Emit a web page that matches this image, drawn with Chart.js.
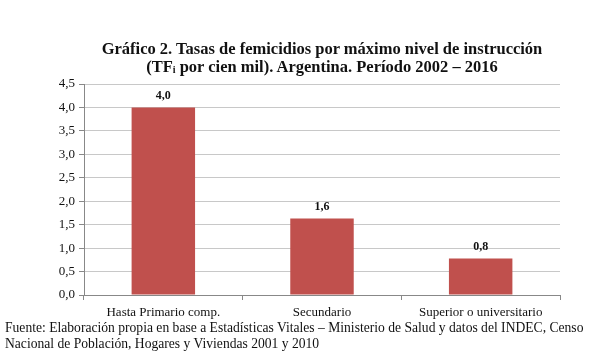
<!DOCTYPE html>
<html><head><meta charset="utf-8">
<script src="https://cdn.jsdelivr.net/npm/chart.js@4"></script>
<style>
html,body{margin:0;padding:0;background:#fff;width:601px;height:362px;overflow:hidden;}
#wrap{position:relative;width:601px;height:362px;}
canvas{position:absolute;left:0;top:0;}
.title{position:absolute;left:0;width:644px;top:40px;text-align:center;font-family:"Liberation Serif","Times New Roman",serif;font-weight:bold;font-size:16.5px;line-height:18px;color:#111;}
.title sub{font-size:10px;vertical-align:-1px;line-height:0;}
.foot{position:absolute;left:5px;top:320px;font-family:"Liberation Serif","Times New Roman",serif;font-size:13.6px;line-height:15.5px;color:#111;}
</style></head>
<body><div id="wrap">
<canvas id="c" width="601" height="362"></canvas>
<div class="title">Gráfico 2. Tasas de femicidios por máximo nivel de instrucción<br>(TF<sub>i</sub> por cien mil). Argentina. Período 2002 – 2016</div>
<div class="foot">Fuente: Elaboración propia en base a Estadísticas Vitales – Ministerio de Salud y datos del INDEC, Censo<br>Nacional de Población, Hogares y Viviendas 2001 y 2010</div>
</div>
<script>
const categories = ["Hasta Primario comp.", "Secundario", "Superior o universitario"];
const values = [4.0, 1.63, 0.78];
const valueLabels = ["4,0", "1,6", "0,8"];
const yTicks = [0, 0.5, 1, 1.5, 2, 2.5, 3, 3.5, 4, 4.5];

const fmt = v => v.toFixed(1).replace('.', ',');

const labelPlugin = {
  id: 'vlabels',
  afterDatasetsDraw(chart) {
    const ctx = chart.ctx;
    const meta = chart.getDatasetMeta(0);
    ctx.save();
    ctx.font = 'bold 12px "Liberation Serif", serif';
    ctx.fillStyle = '#111';
    ctx.textAlign = 'center';
    ctx.textBaseline = 'bottom';
    meta.data.forEach((bar, i) => {
      ctx.fillText(valueLabels[i], bar.x, bar.y - 6);
    });
    ctx.restore();
  }
};

new Chart(document.getElementById('c'), {
  type: 'bar',
  data: {
    labels: categories,
    datasets: [{
      data: values,
      backgroundColor: '#C0504D',
      borderWidth: 0,
      categoryPercentage: 1,
      barPercentage: 0.4
    }]
  },
  options: {
    responsive: false,
    animation: false,
    layout: { padding: { left: 0, right: 41, top: 84, bottom: 0 } },
    plugins: { legend: { display: false }, tooltip: { enabled: false }, title: { display: false } },
    scales: {
      x: {
        offset: true,
        grid: {
          offset: true,
          color: c => (c.index === 3 ? '#c8c8c8' : 'rgba(0,0,0,0)'),
          tickColor: '#888',
          tickLength: 5,
          lineWidth: 1
        },
        border: { color: '#888' },
        ticks: {
          color: '#111',
          font: { family: '"Liberation Serif", serif', size: 13 },
          padding: 5,
          maxRotation: 0
        },
        afterFit: s => { s.height = 67; }
      },
      y: {
        min: 0, max: 4.5,
        afterBuildTicks: s => { s.ticks = yTicks.map(v => ({ value: v })); },
        grid: { color: '#c8c8c8', tickColor: '#888', tickLength: 5 },
        border: { color: '#888' },
        ticks: {
          color: '#111',
          font: { family: '"Liberation Serif", serif', size: 13 },
          padding: 4,
          callback: v => fmt(v)
        },
        afterFit: s => { s.width = 84; }
      }
    }
  },
  plugins: [labelPlugin]
});
</script>
</body></html>
